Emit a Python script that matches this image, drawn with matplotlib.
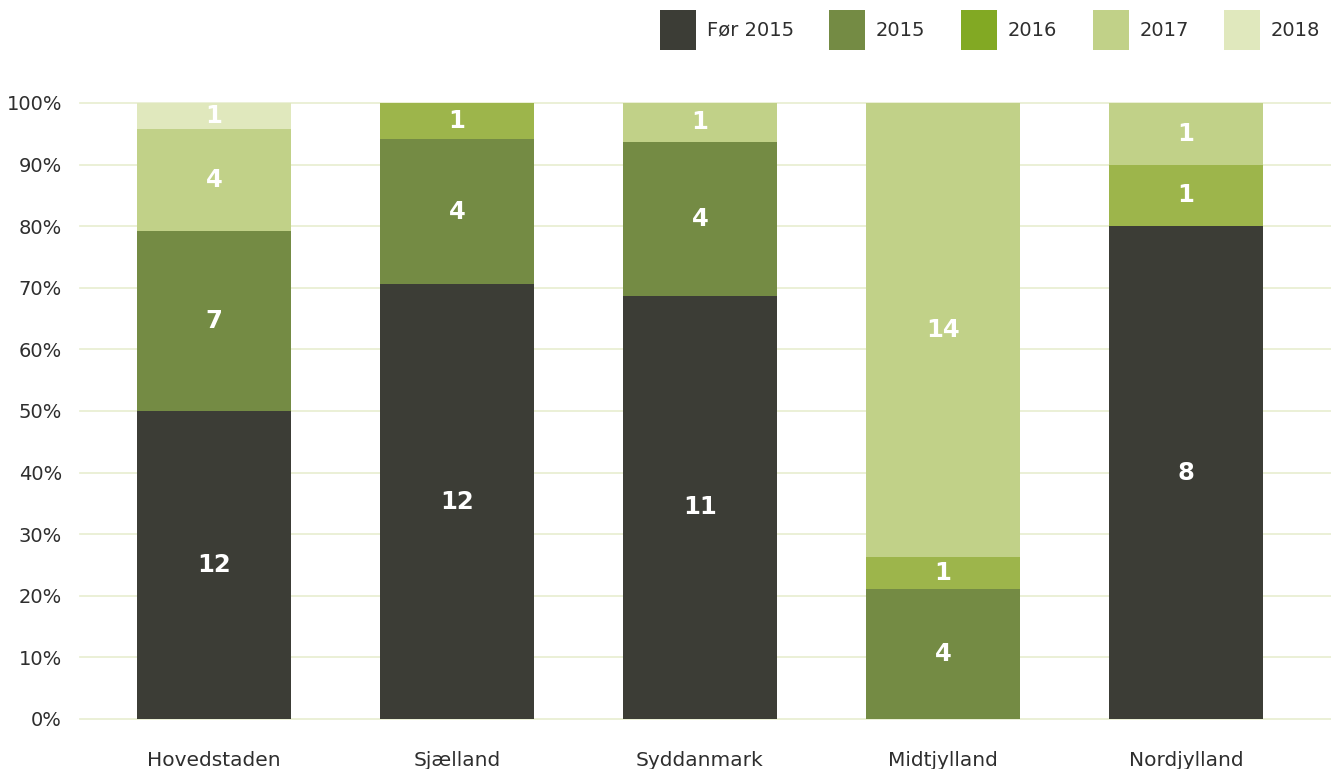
import numpy as np
import matplotlib.pyplot as plt
from matplotlib.patches import Patch

plt.rcParams['font.family'] = ['DejaVu Sans']

regions = ['Hovedstaden', 'Sjælland', 'Syddanmark', 'Midtjylland', 'Nordjylland']
series = ['Før 2015', '2015', '2016', '2017', '2018']
foer_2015 = [12, 12, 11, 0, 8]
y2015 = [7, 4, 4, 4, 0]
y2016 = [0, 1, 0, 1, 1]
y2017 = [4, 0, 1, 14, 1]
y2018 = [1, 0, 0, 0, 0]
counts = np.array([foer_2015, y2015, y2016, y2017, y2018], dtype=float)

bar_colors = ['#3c3d36', '#748b44', '#9db54b', '#c1d188', '#e0e8bd']
legend_colors = ['#3c3d36', '#748b44', '#82a923', '#c1d188', '#e0e8bd']
text_color = '#2e2e2e'

totals = counts.sum(axis=0)
shares = counts / totals * 100

fig = plt.figure(figsize=(13.31, 7.69), dpi=100)
ax = fig.add_axes([80 / 1331, 50 / 769, 1 - 80 / 1331, 616 / 769])

x = np.arange(len(regions))
bottom = np.zeros(len(regions))
for i, name in enumerate(series):
    ax.bar(x, shares[i], bottom=bottom, width=0.634, color=bar_colors[i], zorder=2)
    for j in range(len(regions)):
        if counts[i, j] > 0:
            ax.text(x[j], bottom[j] + shares[i, j] / 2, str(int(counts[i, j])),
                    ha='center', va='center', color='white', fontsize=17.5,
                    fontweight='bold', zorder=3)
    bottom += shares[i]

ax.set_xlim(-0.551, 4.597)
ax.set_ylim(0, 100)
ax.set_yticks(np.arange(0, 101, 10))
ax.set_yticklabels([f'{v}%' for v in range(0, 101, 10)])
ax.set_xticks(x)
ax.set_xticklabels(regions)
ax.tick_params(axis='both', length=0, labelsize=14, colors=text_color)
ax.tick_params(axis='x', labelsize=14.5)
ax.tick_params(axis='y', pad=13)
ax.tick_params(axis='x', pad=23)
ax.yaxis.grid(True, color='#e8edcf', linewidth=1.2, zorder=0)
for gl in ax.get_ygridlines():
    gl.set_clip_on(False)
ax.set_axisbelow(True)
for s in ax.spines.values():
    s.set_visible(False)

handles = [Patch(facecolor=c, edgecolor='none') for c in legend_colors]
fig.legend(handles, series, loc='center right', bbox_to_anchor=(0.992, 0.961),
           ncol=5, frameon=False, fontsize=14, handlelength=1.85, handleheight=2.85,
           handletextpad=0.55, columnspacing=1.83, labelcolor=text_color,
           borderaxespad=0, borderpad=0)

fig.savefig('out.png', dpi=100)
